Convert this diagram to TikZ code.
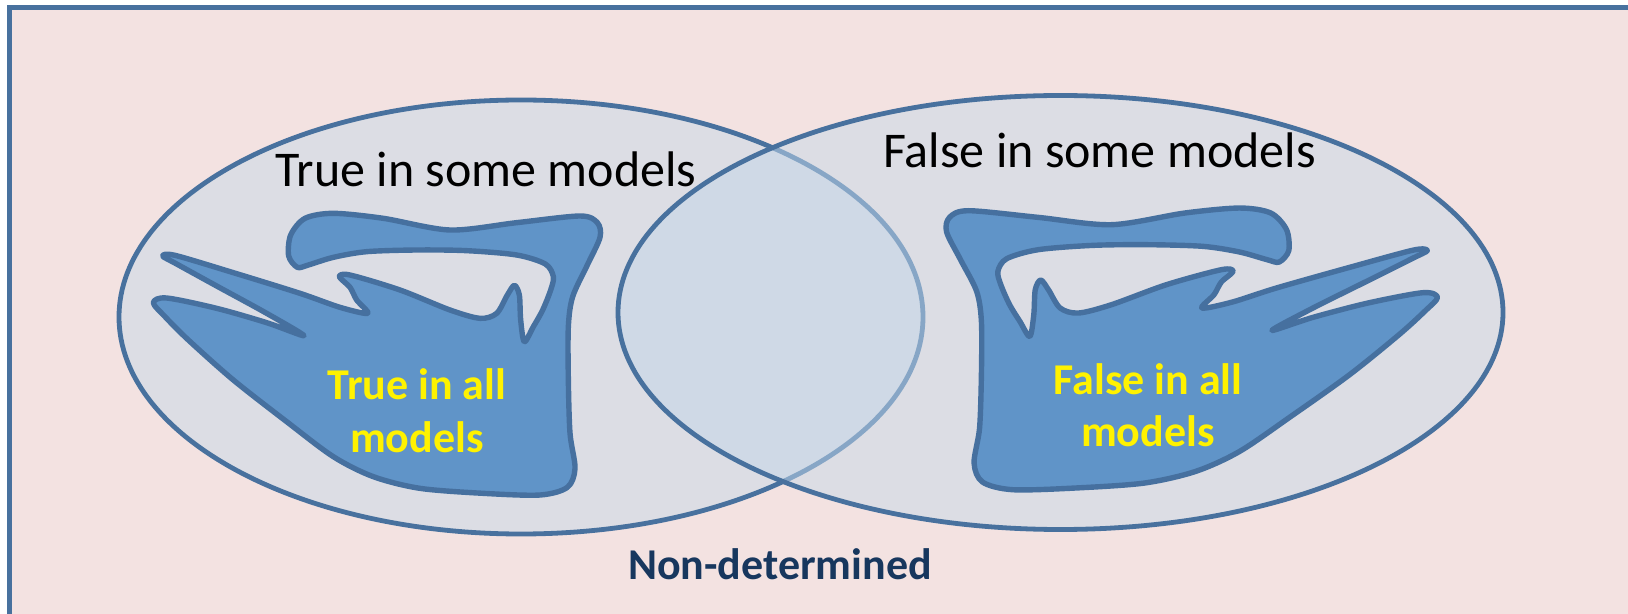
\documentclass[tikz,border=0pt]{standalone}
\usepackage{fontspec}
\setmainfont{Carlito}
\definecolor{bgpink}{HTML}{F3E2E1}
\definecolor{frameblue}{HTML}{48719E}
\definecolor{ellfill}{HTML}{DCDDE4}
\definecolor{lensfill}{HTML}{CFD9E6}
\definecolor{lightline}{HTML}{87A6C6}
\definecolor{blobfill}{HTML}{6094C8}
\definecolor{blobline}{HTML}{46709F}
\definecolor{navy}{HTML}{17375E}
\tikzset{
  ellstyle/.style={draw=frameblue, line width=2.4pt, fill=ellfill},
  blobstyle/.style={draw=blobline, fill=blobfill, line width=2.7pt, line join=round},
  sometext/.style={anchor=base, inner sep=0pt, font=\fontsize{25}{29}\selectfont, text=black},
  alltext/.style={anchor=base, inner sep=0pt, align=center, font=\fontsize{22}{26}\selectfont\bfseries, text=yellow},
  blobshape/.pic={
    \path[blobstyle] plot[smooth cycle, tension=0.5] coordinates {
      (592,262) (566,228) (572,165) (615,115) (700,100) (850,115) (1050,150)
      (1250,128) (1440,108) (1492,128) (1500,172) (1462,255) (1418,350)
      (1405,440) (1405,600) (1410,760) (1425,865) (1402,922) (1320,945)
      (1150,940) (960,925) (820,890) (700,830) (560,725) (400,600) (265,480)
      (195,410) (160,368) (200,354) (350,385) (500,428) (612,467)
      (500,400) (350,318) (230,252) (188,228) (225,226)
      (400,278) (600,340) (720,382) (803,400) (770,360) (750,322)
      (718,290) (750,285) (900,330) (1050,390) (1140,415) (1190,400)
      (1222,345) (1243,316) (1258,345) (1262,420) (1273,485) (1300,440)
      (1328,390) (1352,330) (1360,290) (1336,252) (1250,225) (1100,212)
      (950,210) (800,215) (700,232) (625,255)
    };
  }
}
\begin{document}
\begin{tikzpicture}[x=0.5pt, y=-0.5pt]
\useasboundingbox (0,0) rectangle (1628,614);
\begin{scope}
  \clip (0,0) rectangle (1628,614);
  \fill[white] (0,0) rectangle (1628,614);
  \draw[frameblue, line width=2.5pt, fill=bgpink] (9.5,7.5) rectangle (1660,616.5);
\end{scope}
% left ellipse
\path[ellstyle] (521,317) ellipse [x radius=201pt, y radius=108.5pt];
% right ellipse fill
\fill[ellfill] (1060.5,312.5) ellipse [x radius=221.25pt, y radius=108.5pt];
% lens and lighter arc
\begin{scope}
  \clip (1060.5,312.5) ellipse [x radius=221.25pt, y radius=108.5pt];
  \fill[lensfill] (521,317) ellipse [x radius=201pt, y radius=108.5pt];
  \draw[lightline, line width=2.4pt] (521,317) ellipse [x radius=201pt, y radius=108.5pt];
\end{scope}
\draw[frameblue, line width=2.4pt] (1060.5,312.5) ellipse [x radius=221.25pt, y radius=108.5pt];
% blobs
\begin{scope}[xshift=50pt, yshift=-90pt, x=0.166667pt, y=-0.166667pt]
  \pic {blobshape};
\end{scope}
\begin{scope}[xshift=748.05pt, yshift=-87.35pt, x=-0.18317pt, y=-0.166667pt]
  \pic {blobshape};
\end{scope}
% texts
\node[sometext] (tsome) at (486,187) {True in some models};
\node[sometext] (fsome) at (1099.5,167.5) {False in some models};
\node[alltext] (tall) at (417,452) {True in all\\models};
\node[alltext] (fall) at (1148,447) {False in all\\models};
\node[anchor=base, inner sep=0pt, font=\fontsize{22}{26}\selectfont\bfseries, text=navy] (nondet) at (780,579) {Non-determined};
\end{tikzpicture}
\end{document}
